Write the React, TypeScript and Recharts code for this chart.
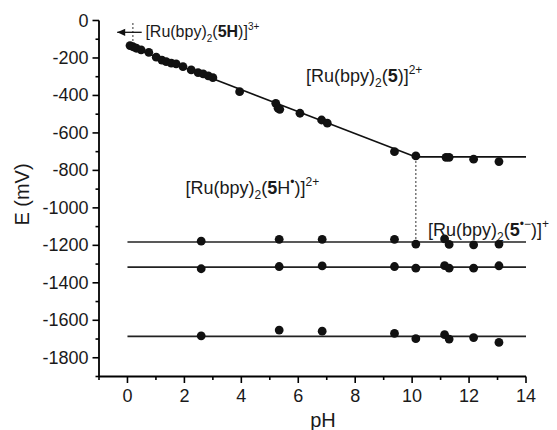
import React from "react";
import {
  ComposedChart,
  XAxis,
  YAxis,
  Scatter,
  ReferenceLine,
  ReferenceDot,
} from "recharts";

// ---- data ----
const slopePH = [0.09, 0.19, 0.31, 0.48, 0.75, 1.01, 1.21, 1.36, 1.54, 1.71, 1.95, 2.24, 2.48, 2.66, 2.84, 3.0, 3.94, 5.21, 5.29, 5.35, 6.06, 6.82, 7.02, 9.38, 10.13, 11.19, 11.3, 12.16, 13.05];
const slopeE = [-134, -140, -148, -157, -170, -196, -211, -220, -228, -232, -246, -264, -278, -285, -296, -305, -380, -442, -468, -474, -495, -531, -548, -700, -723, -730, -730, -740, -753];

const flatPH = [2.59, 5.33, 6.84, 9.38, 10.13, 11.14, 11.3, 12.16, 13.05];
const line1E = [-1178, -1168, -1168, -1168, -1193, -1166, -1195, -1197, -1193];
const line2E = [-1325, -1313, -1310, -1313, -1322, -1308, -1322, -1322, -1309];
const line3E = [-1683, -1652, -1658, -1670, -1698, -1677, -1700, -1692, -1718];

// fitted lines [pH, E]
const slopeLine = [[0, -135], [10.13, -728]];
const kinkLine = [[10.13, -728], [14, -728]];
const flatLevels = [-1182, -1316, -1686];
const flatRange = [0, 14];
const dottedKink = [[10.13, -728], [10.13, -1182]];
const dottedTop = [[0.19, -13], [0.19, -118]];
const arrowLine = [[0.5, -63], [-0.36, -63]];
const arrowTip = [{ x: -0.36, y: -63 }];

const xTicks = [-1, 0, 1, 2, 3, 4, 5, 6, 7, 8, 9, 10, 11, 12, 13, 14];
const yTicks = [-1900, -1800, -1700, -1600, -1500, -1400, -1300, -1200, -1100, -1000, -900, -800, -700, -600, -500, -400, -300, -200, -100, 0];

const toPts = (xs: number[], ys: number[]) => xs.map((x, i) => ({ x, y: ys[i] }));
const slopePts = toPts(slopePH, slopeE);
const pts1 = toPts(flatPH, line1E);
const pts2 = toPts(flatPH, line2E);
const pts3 = toPts(flatPH, line3E);

const FONT = "'Liberation Sans', Arial, Helvetica, sans-serif";
const INK = "#1a1a1a";

type Part = { t: string; k?: "sub" | "sup" | "b" };
const labelDefs: { x: number; y: number; size: number; parts: Part[] }[] = [
  { x: 0.63, y: -90, size: 16, parts: [{ t: "[Ru(bpy)" }, { t: "2", k: "sub" }, { t: "(" }, { t: "5H", k: "b" }, { t: ")]" }, { t: "3+", k: "sup" }] },
  { x: 6.27, y: -328, size: 18, parts: [{ t: "[Ru(bpy)" }, { t: "2", k: "sub" }, { t: "(" }, { t: "5", k: "b" }, { t: ")]" }, { t: "2+", k: "sup" }] },
  { x: 2.04, y: -925, size: 18, parts: [{ t: "[Ru(bpy)" }, { t: "2", k: "sub" }, { t: "(" }, { t: "5", k: "b" }, { t: "H" }, { t: "•", k: "sup" }, { t: ")]" }, { t: "2+", k: "sup" }] },
  { x: 10.56, y: -1150, size: 18, parts: [{ t: "[Ru(bpy)" }, { t: "2", k: "sub" }, { t: "(" }, { t: "5", k: "b" }, { t: "•−", k: "sup" }, { t: ")]" }, { t: "+", k: "sup" }] },
];

const renderParts = (parts: Part[], size: number) => {
  const small = Math.round(size * 0.65);
  const out: React.ReactNode[] = [];
  let shift = 0;
  parts.forEach((p, i) => {
    let target = 0;
    if (p.k === "sub") target = size * 0.3;
    if (p.k === "sup") target = -size * 0.45;
    const dy = target - shift;
    shift = target;
    out.push(
      <tspan
        key={i}
        dy={dy}
        fontSize={p.k === "sub" || p.k === "sup" ? small : size}
        fontWeight={p.k === "b" ? "bold" : "normal"}
      >
        {p.t}
      </tspan>
    );
  });
  return out;
};

const makeLabel = (parts: Part[], size: number) => (props: any) => {
  const vb = props.viewBox || {};
  return (
    <text x={vb.x} y={vb.y} fill={INK} fontFamily={FONT} fontSize={size}>
      {renderParts(parts, size)}
    </text>
  );
};

const XTick = (p: any) => {
  const v = p.payload.value;
  const major = v % 2 === 0;
  return (
    <g>
      <line x1={p.x} x2={p.x} y1={p.y} y2={p.y + (major ? 6.5 : 3.5)} stroke="#000" strokeWidth={1.6} />
      {major && (
        <text x={p.x} y={p.y + 19} textAnchor="middle" dominantBaseline="central" fontFamily={FONT} fontSize={18} fill={INK}>
          {v}
        </text>
      )}
    </g>
  );
};

const YTick = (p: any) => {
  const v = p.payload.value;
  const major = v % 200 === 0;
  return (
    <g>
      <line x1={p.x} x2={p.x - (major ? 6.5 : 3.5)} y1={p.y} y2={p.y} stroke="#000" strokeWidth={1.6} />
      {major && (
        <text x={p.x - 10.5} y={p.y} textAnchor="end" dominantBaseline="central" fontFamily={FONT} fontSize={18} fill={INK}>
          {v}
        </text>
      )}
    </g>
  );
};

const XTitle = (props: any) => {
  const vb = props.viewBox;
  return (
    <text x={vb.x + 224} y={vb.y + 43} textAnchor="middle" dominantBaseline="central" fontFamily={FONT} fontSize={20} fill={INK}>
      pH
    </text>
  );
};

const YTitle = (props: any) => {
  const vb = props.viewBox;
  const cx = vb.x + 14;
  const cy = vb.y + 174;
  return (
    <text x={cx} y={cy} transform={`rotate(-90 ${cx} ${cy})`} textAnchor="middle" dominantBaseline="central" fontFamily={FONT} fontSize={20} fill={INK}>
      E (mV)
    </text>
  );
};

const Dot = (p: any) => <circle cx={p.cx} cy={p.cy} r={4.4} fill="#111" />;
const Arrowhead = (p: any) => (
  <path d={`M${p.cx},${p.cy} l8,-3.6 l0,7.2 z`} fill="#111" />
);

const seg = (s: number[][]) => [
  { x: s[0][0], y: s[0][1] },
  { x: s[1][0], y: s[1][1] },
];

export default function App() {
  return (
    <ComposedChart
      width={549}
      height={422}
      margin={{ top: 12.5, right: 31, bottom: 23.5, left: 0 }}
      style={{ background: "#fff" }}
    >
      <XAxis
        type="number"
        dataKey="x"
        domain={[-1, 14]}
        ticks={xTicks}
        interval={0}
        tickSize={0}
        tickMargin={0}
        tickLine={false}
        tick={<XTick />}
        axisLine={{ stroke: "#000", strokeWidth: 1.8 }}
        height={30}
        allowDataOverflow
        label={XTitle}
      />
      <YAxis
        type="number"
        dataKey="y"
        domain={[-1900, 0]}
        ticks={yTicks}
        interval={0}
        tickSize={0}
        tickMargin={0}
        tickLine={false}
        tick={<YTick />}
        axisLine={{ stroke: "#000", strokeWidth: 1.8 }}
        width={91}
        allowDataOverflow
        label={YTitle}
      />

      <ReferenceLine segment={seg(slopeLine)} stroke="#111" strokeWidth={1.6} />
      <ReferenceLine segment={seg(kinkLine)} stroke="#111" strokeWidth={1.6} />
      {flatLevels.map((e, i) => (
        <ReferenceLine
          key={i}
          segment={[
            { x: flatRange[0], y: e },
            { x: flatRange[1], y: e },
          ]}
          stroke="#222"
          strokeWidth={1.6}
        />
      ))}
      <ReferenceLine segment={seg(dottedKink)} stroke="#555" strokeWidth={1.2} strokeDasharray="2 2" />
      <ReferenceLine segment={seg(dottedTop)} stroke="#555" strokeWidth={1.2} strokeDasharray="2 2" />
      <ReferenceLine segment={seg(arrowLine)} stroke="#111" strokeWidth={1.3} />

      <Scatter data={slopePts} shape={Dot} isAnimationActive={false} />
      <Scatter data={pts1} shape={Dot} isAnimationActive={false} />
      <Scatter data={pts2} shape={Dot} isAnimationActive={false} />
      <Scatter data={pts3} shape={Dot} isAnimationActive={false} />
      <Scatter data={arrowTip} shape={Arrowhead} isAnimationActive={false} />

      {labelDefs.map((l, i) => (
        <ReferenceDot
          key={"l" + i}
          x={l.x}
          y={l.y}
          r={0}
          fill="none"
          stroke="none"
          label={makeLabel(l.parts, l.size)}
        />
      ))}
    </ComposedChart>
  );
}
